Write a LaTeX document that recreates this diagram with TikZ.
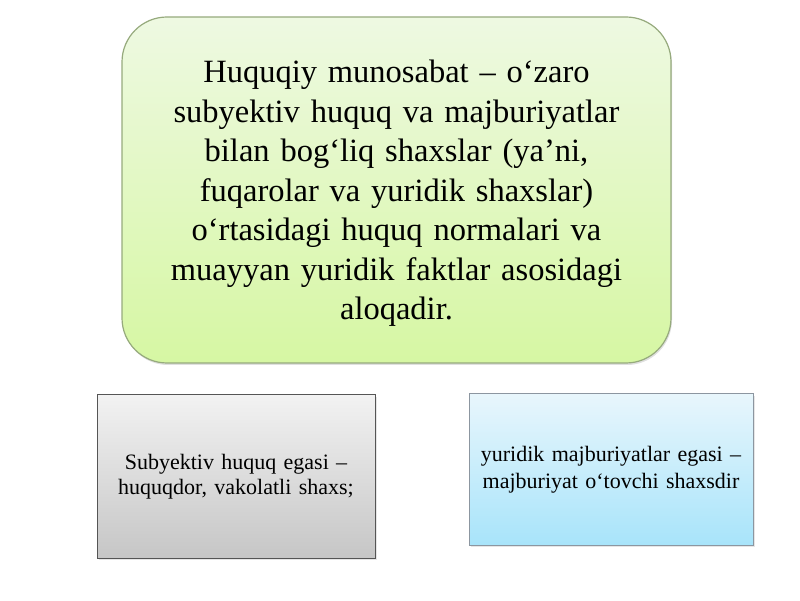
\documentclass[tikz,border=0pt]{standalone}
\usepackage{fontspec}
\setmainfont{Liberation Serif}
\usetikzlibrary{shadows}
\definecolor{gtop}{RGB}{238,249,226}
\definecolor{gbot}{RGB}{214,247,163}
\definecolor{gline}{RGB}{150,170,125}
\definecolor{stop}{RGB}{242,242,242}
\definecolor{sbot}{RGB}{198,198,198}
\definecolor{sline}{RGB}{85,85,85}
\definecolor{btop}{RGB}{232,246,252}
\definecolor{bbot}{RGB}{168,228,250}
\definecolor{bline}{RGB}{140,150,160}
\tikzset{
  mainbox/.style={draw=gline, line width=1.2pt, rounded corners=45pt, top color=gtop, bottom color=gbot,
    minimum width=549pt, minimum height=346pt, inner sep=0pt,
    drop shadow={shadow xshift=1pt, shadow yshift=-2pt, opacity=0.25}},
  maintxt/.style={align=center, text width=540pt, inner sep=0pt,
    font=\fontsize{32.5}{39.5}\selectfont},
  greybox/.style={draw=sline, line width=1pt, top color=stop, bottom color=sbot,
    minimum width=278pt, minimum height=163pt, align=center, text width=270pt,
    font=\fontsize{22}{25.5}\selectfont, inner sep=0pt,
    drop shadow={shadow xshift=2pt, shadow yshift=-2pt, opacity=0.2}},
  bluebox/.style={draw=bline, line width=1pt, top color=btop, bottom color=bbot,
    minimum width=284pt, minimum height=151pt, align=center, text width=280pt,
    font=\fontsize{22}{27}\selectfont, inner sep=0pt,
    drop shadow={shadow xshift=2pt, shadow yshift=-2pt, opacity=0.2}}
}
\begin{document}
\begin{tikzpicture}[x=1pt,y=1pt]
\useasboundingbox (0,0) rectangle (800,600);
\node[mainbox] (main) at (396.5,410) {};
\node[maintxt] (maintext) at (396.5,406.5) {Huquqiy munosabat – o‘zaro\\ subyektiv huquq va majburiyatlar\\ bilan bog‘liq shaxslar (ya’ni,\\ fuqarolar va yuridik shaxslar)\\ o‘rtasidagi huquq normalari va\\ muayyan yuridik faktlar asosidagi\\ aloqadir.};
\node[greybox] (left) at (236,123.5) {Subyektiv huquq egasi –\\ huquqdor, vakolatli shaxs;};
\node[bluebox] (right) at (611,130.5) {yuridik majburiyatlar egasi –\\ majburiyat o‘tovchi shaxsdir};
\end{tikzpicture}
\end{document}
